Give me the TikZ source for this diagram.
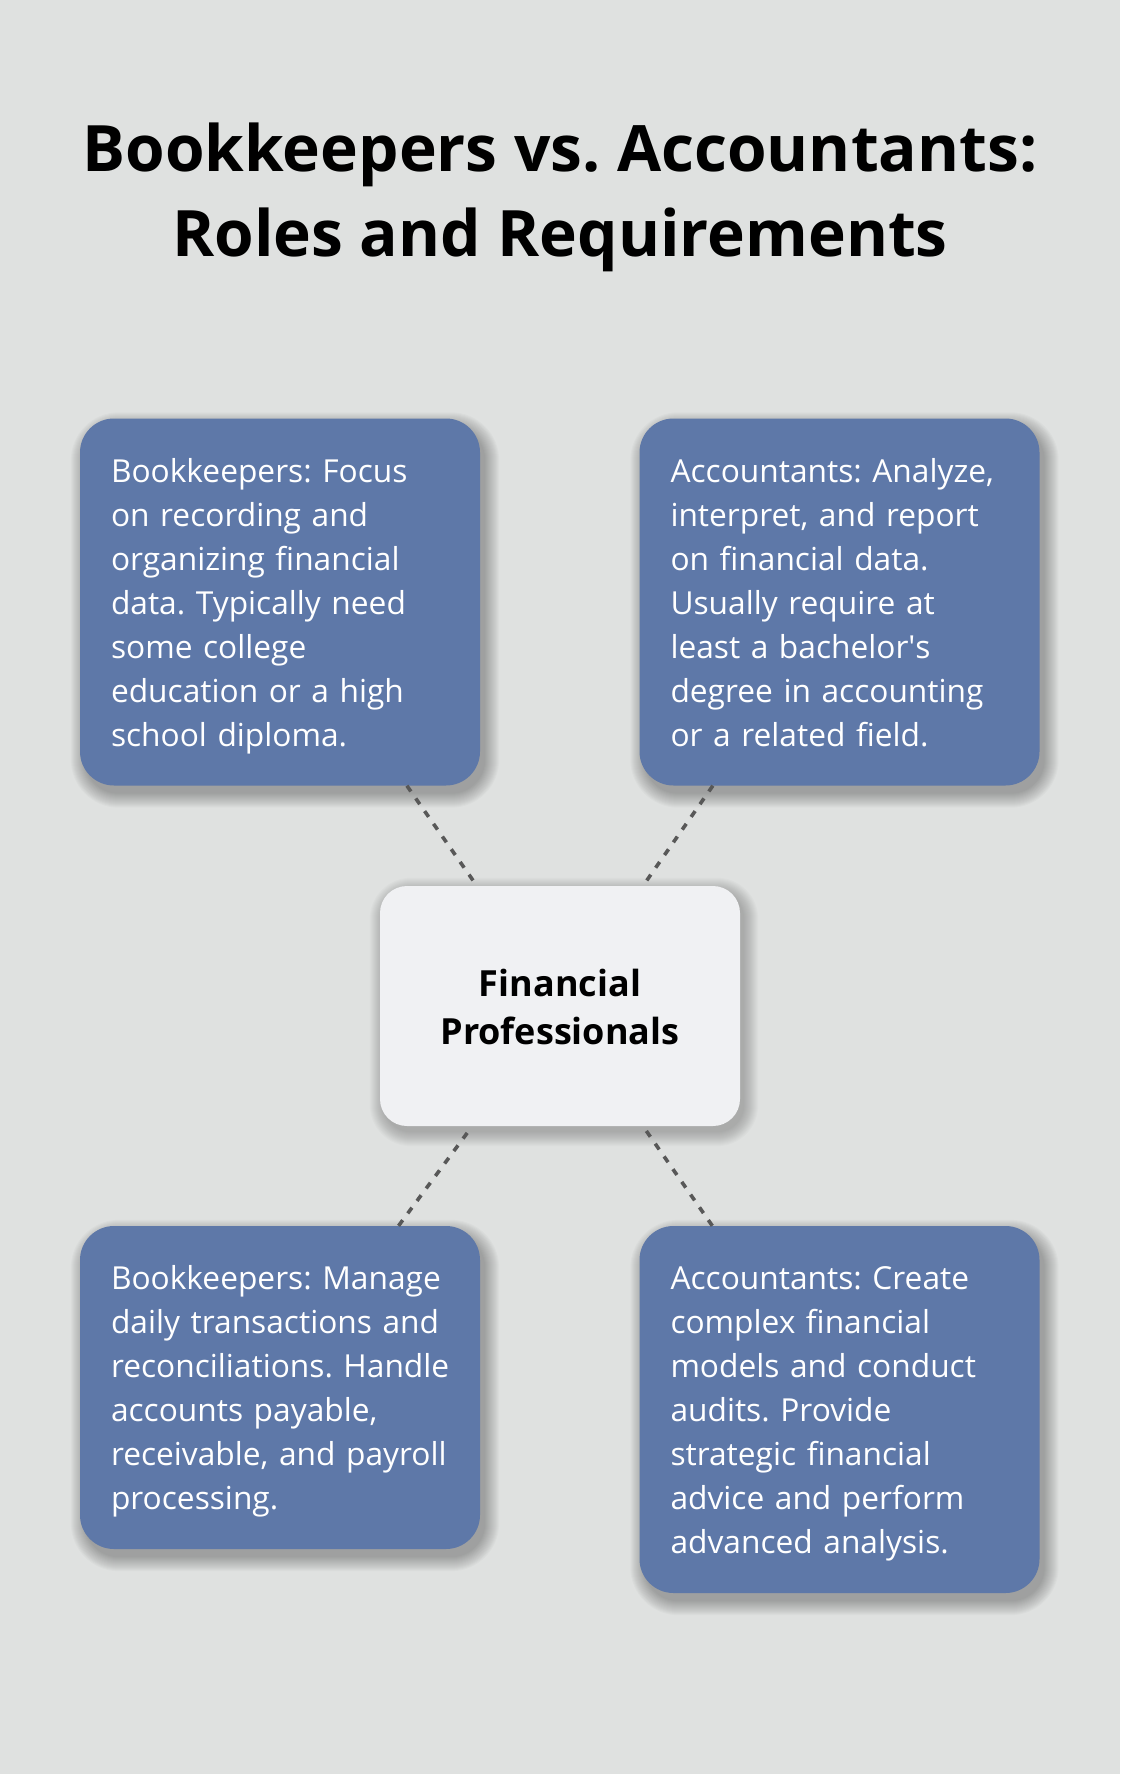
\documentclass[tikz,border=0pt]{standalone}
\usepackage{fontspec}
\setmainfont{Open Sans}
\usetikzlibrary{backgrounds}
\frenchspacing
\definecolor{bgc}{RGB}{223,225,224}
\definecolor{bluebox}{RGB}{94,120,168}
\definecolor{centerbox}{RGB}{240,241,243}
\definecolor{dashc}{RGB}{88,88,88}
\newcommand{\firstline}{\rule{0pt}{34pt}}
\newcommand{\lastline}{\rule[-10pt]{0pt}{10pt}}
\newcommand{\hubfirst}{\rule{0pt}{38pt}}
\newcommand{\hublast}{\rule[-10pt]{0pt}{10pt}}
\newcommand{\softshadow}[5]{% node, radius, dx, dy, opacity
  \foreach \k [evaluate=\k as \r using #2+\k] in {0,...,14}{
    \fill[black, opacity=#5, rounded corners=\r pt]
      ([shift={(#3-\k,#4-\k)}]#1.north west) rectangle ([shift={(#3+\k,#4+\k)}]#1.south east);
  }}
\tikzset{
  infobox/.style={fill=bluebox, rounded corners=34pt, text=white, align=left,
    text width=338pt, inner xsep=31pt, inner ysep=0pt, minimum width=400pt,
    font=\fontsize{31.7}{44}\selectfont},
  hubbox/.style={fill=centerbox, rounded corners=27pt, text=black, align=center,
    minimum width=360pt, minimum height=240pt, inner sep=0pt,
    font=\fontsize{36}{48}\selectfont\bfseries},
  titletext/.style={align=center, inner sep=0pt, font=\fontsize{64}{85}\selectfont\bfseries},
  dashline/.style={draw=dashc, line width=3.6pt, dash pattern=on 7pt off 8.5pt}
}
\begin{document}
\begin{tikzpicture}[x=1pt,y=-1pt]
\useasboundingbox (0,0) rectangle (1120,1774);

\node[titletext] (title) at (560,196.5) {\strut Bookkeepers vs. Accountants:\\Roles and Requirements\strut};

\node[infobox, minimum height=367pt] (tl) at (280,602)
 {\firstline Bookkeepers: Focus\\on recording and\\organizing financial\\data. Typically need\\some college\\education or a high\\school diploma.\lastline};
\node[infobox, minimum height=367pt] (tr) at (839.5,602)
 {\firstline Accountants: Analyze,\\interpret, and report\\on financial data.\\Usually require at\\least a bachelor\textquotesingle s\\degree in accounting\\or a related field.\lastline};
\node[infobox, minimum height=323pt] (bl) at (280,1387.5)
 {\firstline \mbox{Bookkeepers: Manage}\\\mbox{daily transactions and}\\\mbox{reconciliations. Handle}\\\mbox{accounts payable,}\\\mbox{receivable, and payroll}\\processing.\lastline};
\node[infobox, minimum height=367pt] (br) at (839.5,1409.5)
 {\firstline Accountants: Create\\complex financial\\models and conduct\\audits. Provide\\strategic financial\\advice and perform\\advanced analysis.\lastline};

\node[hubbox] (hub) at (560,1006) {\hubfirst Financial\\Professionals\hublast};

\begin{scope}[on background layer]
  \fill[bgc] (0,0) rectangle (1120,1774);
  \softshadow{tl}{34}{5}{8}{0.02}
  \softshadow{tr}{34}{5}{8}{0.02}
  \softshadow{bl}{34}{5}{8}{0.02}
  \softshadow{br}{34}{5}{8}{0.02}
  \softshadow{hub}{27}{4}{6}{0.015}
\end{scope}

\draw[dashline] (tl) -- (hub);
\draw[dashline] (tr) -- (hub);
\draw[dashline] (bl) -- (hub);
\draw[dashline] (br) -- (hub);
\end{tikzpicture}
\end{document}
